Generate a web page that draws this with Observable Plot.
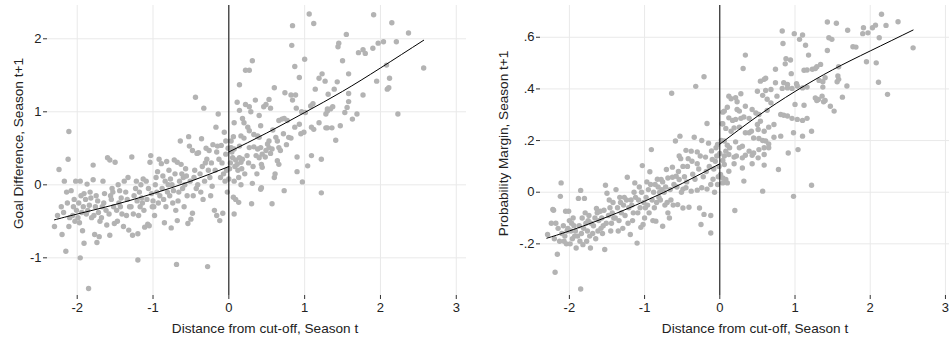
<!DOCTYPE html>
<html><head><meta charset="utf-8">
<script src="https://cdn.jsdelivr.net/npm/d3@7"></script>
<script src="https://cdn.jsdelivr.net/npm/@observablehq/plot@0.6"></script>
<style>
body{margin:0;background:#fff;}
#row{display:flex;width:949px;height:337px;overflow:hidden;}
</style></head><body><div id="row"></div>
<script>
const xTicks = [-2, -1, 0, 1, 2, 3];
const gdYTicks = [-1, 0, 1, 2];
const gdYTickLabels = ["-1", "0", "1", "2"];
const pmYTicks = [-0.2, 0, 0.2, 0.4, 0.6];
const pmYTickLabels = ["-.2", "0", ".2", ".4", ".6"];
const xTitle = "Distance from cut-off, Season t";
const gdTitle = "Goal Difference, Season t+1";
const pmTitle = "Probability Margin, Season t+1";

// ---- Panel 1: Goal Difference ----
const gdBelow = [
[-2.3,-0.57],[-2.26,-0.42],[-2.24,0.21],[-2.21,-0.3],[-2.2,-0.68],
[-2.17,0.05],[-2.15,-0.91],[-2.14,-0.1],[-2.12,0.35],[-2.11,0.73],[-2.11,-0.57],[-2.13,-0.25],[-2.1,-0.45],[-2.18,-0.38],
[-2.08,-0.08],[-2.05,-0.3],[-2.04,-0.2],[-2.02,0.05],[-2.06,-0.42],[-2.01,-0.35],[-2.03,-0.5],
[-1.96,-1.0],[-1.96,0.05],[-1.93,-0.63],[-1.91,-0.8],[-1.98,-0.25],[-1.95,-0.15],[-1.92,-0.3],[-1.94,-0.38],[-1.99,-0.45],[-1.91,-0.12],[-1.97,-0.52],
[-1.87,0.01],[-1.85,-1.42],[-1.82,-0.18],[-1.84,-0.28],[-1.88,-0.4],[-1.86,-0.35],[-1.81,-0.45],[-1.83,-0.1],[-1.89,-0.2],
[-1.79,0.27],[-1.79,0.07],[-1.77,-0.68],[-1.74,-0.79],[-1.71,-0.71],[-1.76,-0.3],[-1.73,-0.22],[-1.78,-0.42],[-1.72,-0.38],[-1.75,-0.15],[-1.7,-0.5],
[-1.66,0.05],[-1.6,0.37],[-1.65,-0.25],[-1.62,-0.35],[-1.68,-0.45],[-1.64,-0.12],[-1.61,-0.55],[-1.67,-0.3],
[-1.57,0.34],[-1.57,-0.69],[-1.51,-0.53],[-1.5,0.31],[-1.55,-0.2],[-1.53,-0.1],[-1.58,-0.4],[-1.52,-0.3],[-1.56,-0.15],[-1.54,-0.05],
[-1.45,-0.25],[-1.48,-0.35],[-1.42,-0.18],[-1.46,0.0],[-1.41,-0.4],[-1.44,-0.08],[-1.47,-0.5],[-1.43,-0.3],
[-1.39,-0.57],[-1.32,-0.62],[-1.36,-0.1],[-1.34,-0.2],[-1.38,0.05],[-1.31,-0.3],[-1.35,-0.42],[-1.33,0.1],
[-1.28,0.38],[-1.27,-0.69],[-1.2,-0.67],[-1.2,-1.03],[-1.25,-0.15],[-1.23,-0.05],[-1.29,-0.3],[-1.22,0.05],[-1.26,-0.4],[-1.21,-0.22],
[-1.18,-0.1],[-1.16,0.0],[-1.14,-0.25],[-1.12,-0.35],[-1.11,-0.58],[-1.15,-0.18],[-1.13,0.08],[-1.19,-0.42],[-1.17,-0.3],
[-1.07,-0.54],[-1.05,-0.56],[-1.04,0.31],[-1.03,0.4],[-1.08,-0.2],[-1.06,-0.05],[-1.02,-0.12],[-1.01,-0.3],[-1.09,0.05],[-1.0,-0.22],
[-0.98,-0.42],[-0.92,0.35],[-0.95,-0.1],[-0.97,0.0],[-0.93,-0.25],[-0.91,-0.15],[-0.96,0.1],[-0.99,-0.3],[-0.94,0.18],
[-0.89,0.29],[-0.85,-0.52],[-0.82,0.32],[-0.88,-0.05],[-0.86,-0.2],[-0.84,0.05],[-0.81,-0.1],[-0.87,0.12],[-0.83,-0.3],[-0.8,0.0],
[-0.76,-0.59],[-0.72,0.34],[-0.78,-0.15],[-0.75,0.0],[-0.73,-0.08],[-0.71,0.15],[-0.77,0.08],[-0.74,-0.25],[-0.79,0.2],[-0.7,-0.35],
[-0.69,-1.09],[-0.68,0.31],[-0.68,-0.49],[-0.64,0.6],[-0.63,0.28],[-0.66,-0.1],[-0.65,0.05],[-0.62,0.15],[-0.67,-0.22],[-0.61,-0.05],[-0.6,0.1],
[-0.54,-0.53],[-0.53,0.66],[-0.52,0.53],[-0.5,-0.47],[-0.58,0.0],[-0.56,0.12],[-0.55,-0.15],[-0.57,0.22],[-0.51,0.05],[-0.59,-0.3],
[-0.48,0.47],[-0.48,-0.39],[-0.44,1.2],[-0.42,0.43],[-0.4,0.44],[-0.46,0.1],[-0.45,0.2],[-0.43,-0.05],[-0.47,-0.15],[-0.41,0.0],
[-0.36,0.63],[-0.33,1.05],[-0.3,0.5],[-0.38,0.15],[-0.35,0.25],[-0.32,0.05],[-0.37,-0.1],[-0.31,0.3],[-0.34,-0.2],
[-0.28,-1.12],[-0.26,0.47],[-0.21,0.55],[-0.27,0.2],[-0.25,0.1],[-0.23,0.3],[-0.22,-0.02],[-0.29,0.35],[-0.24,-0.15],
[-0.19,-0.35],[-0.17,0.79],[-0.16,-0.42],[-0.15,0.53],[-0.14,0.97],[-0.12,-0.49],[-0.18,0.2],[-0.13,0.35],[-0.11,0.1],[-0.16,0.45],
[-0.1,0.54],[-0.08,-0.39],[-0.06,0.72],[-0.09,0.3],[-0.07,0.15],[-0.04,0.42],[-0.03,0.2],[-0.02,-0.1],[-0.05,0.05],[-0.01,0.5],[-0.04,0.6]
];
const gdAbove = [
[0.0,0.08],[0.03,0.51],[0.05,0.37],[0.06,0.66],[0.06,-0.17],[0.07,-0.4],[0.07,0.49],[0.07,0.85],[0.09,0.34],[0.09,-0.2],[0.02,0.3],[0.01,0.22],[0.04,0.45],[0.07,0.05],[0.03,0.6],[0.08,0.25],
[0.11,1.13],[0.11,0.28],[0.13,0.1],[0.13,-0.24],[0.14,1.02],[0.14,1.37],[0.14,0.53],[0.14,0.37],[0.16,0.67],[0.16,0.31],[0.16,0.0],[0.18,0.91],[0.18,0.35],[0.12,0.2],[0.17,0.22],
[0.2,0.85],[0.2,0.64],[0.22,1.57],[0.22,1.1],[0.25,0.79],[0.27,1.57],[0.27,1.07],[0.27,0.74],[0.27,0.51],[0.29,1.0],[0.24,0.4],[0.21,0.15],[0.26,0.3],
[0.31,1.7],[0.31,0.02],[0.3,-0.26],[0.33,0.69],[0.33,0.52],[0.35,1.16],[0.36,0.4],[0.38,0.67],[0.38,0.49],[0.32,0.25],[0.37,0.15],
[0.4,0.95],[0.4,0.65],[0.4,0.37],[0.42,0.81],[0.42,0.51],[0.42,-0.06],[0.43,0.28],[0.43,-0.04],[0.44,0.42],[0.44,0.24],[0.46,1.07],[0.48,0.38],[0.49,1.1],[0.49,0.47],
[0.51,0.56],[0.53,1.17],[0.53,0.6],[0.53,0.51],[0.55,1.05],[0.55,0.43],[0.57,0.49],[0.57,-0.26],[0.6,1.33],[0.6,0.1],[0.58,0.75],
[0.61,0.15],[0.62,0.65],[0.64,0.6],[0.64,0.33],[0.66,0.88],[0.66,0.51],[0.66,0.28],[0.68,0.47],[0.7,0.9],
[0.73,0.91],[0.73,-0.08],[0.74,1.26],[0.77,0.88],[0.79,0.65],[0.76,0.55],[0.72,0.7],
[0.82,1.23],[0.82,0.64],[0.83,1.91],[0.84,2.18],[0.84,1.16],[0.87,1.62],[0.87,0.79],[0.88,1.23],[0.89,1.05],[0.9,0.38],[0.9,0.18],
[0.93,1.47],[0.93,0.83],[0.95,0.7],[0.97,0.04],[0.99,0.72],[1.0,1.72],[0.96,1.0],
[1.01,0.99],[1.04,0.26],[1.06,2.34],[1.08,1.08],[1.09,0.79],[1.09,0.4],
[1.11,1.11],[1.12,2.21],[1.12,0.76],[1.14,1.31],[1.19,1.46],[1.19,0.85],
[1.22,0.35],[1.22,-0.11],[1.23,1.52],[1.27,1.42],[1.28,0.78],[1.28,0.97],[1.3,1.04],[1.3,1.01],[1.3,0.78],
[1.31,1.24],[1.34,1.04],[1.36,0.78],[1.37,1.07],[1.39,1.31],
[1.41,0.61],[1.43,1.41],[1.44,1.89],[1.45,1.94],[1.47,0.81],[1.5,1.7],
[1.53,0.99],[1.55,2.06],[1.56,1.06],[1.58,1.52],[1.58,1.25],[1.58,1.14],
[1.63,0.9],[1.69,0.97],[1.71,1.81],[1.77,1.85],[1.77,1.23],[1.8,1.8],
[1.9,1.87],[1.91,2.33],[1.95,1.42],[1.97,1.94],[2.04,1.96],[2.08,1.64],[2.09,1.31],[2.11,1.33],[2.12,1.46],
[2.15,2.22],[2.21,1.96],[2.23,0.97],[2.37,2.08],[2.57,1.6]
];
const gdFitBelowX = [-2.3, -2, -1.5, -1, -0.5, 0];
const gdFitBelowY = [-0.48, -0.40, -0.27, -0.12, 0.05, 0.25];
const gdFitAboveX = [0, 0.5, 1, 1.5, 2, 2.57];
const gdFitAboveY = [0.45, 0.71, 0.99, 1.28, 1.6, 1.98];

// ---- Panel 2: Probability Margin ----
const pmBelow = [
[-2.29,-0.164],[-2.22,-0.067],[-2.24,-0.12],[-2.21,-0.07],[-2.2,-0.18],
[-2.19,-0.31],[-2.16,-0.24],[-2.12,-0.016],[-2.11,0.036],[-2.15,-0.14],[-2.13,-0.19],[-2.18,-0.12],[-2.1,-0.16],
[-2.05,-0.074],[-2.01,-0.074],[-2.08,-0.13],[-2.06,-0.17],[-2.04,-0.2],[-2.03,-0.15],[-2.0,-0.11],[-2.07,-0.19],[-2.02,-0.14],
[-1.91,-0.216],[-1.98,-0.15],[-1.96,-0.18],[-1.94,-0.13],[-1.93,-0.17],[-1.99,-0.2],[-1.95,-0.1],[-1.92,-0.15],[-1.97,-0.12],
[-1.85,-0.375],[-1.85,0.007],[-1.88,-0.024],[-1.82,-0.203],[-1.8,-0.024],[-1.87,-0.13],[-1.84,-0.16],[-1.83,-0.1],[-1.89,-0.17],[-1.81,-0.14],[-1.86,-0.19],
[-1.72,-0.216],[-1.78,-0.12],[-1.76,-0.15],[-1.74,-0.09],[-1.73,-0.17],[-1.71,-0.12],[-1.77,-0.19],[-1.75,-0.11],[-1.79,-0.08],
[-1.64,-0.063],[-1.68,-0.13],[-1.66,-0.1],[-1.62,-0.15],[-1.65,-0.18],[-1.61,-0.11],[-1.69,-0.16],[-1.63,-0.08],
[-1.59,-0.074],[-1.53,-0.222],[-1.52,0.027],[-1.5,-0.004],[-1.57,-0.1],[-1.55,-0.13],[-1.56,-0.16],[-1.54,-0.07],[-1.51,-0.12],[-1.58,-0.14],
[-1.48,-0.09],[-1.46,-0.06],[-1.44,-0.12],[-1.42,-0.04],[-1.45,-0.15],[-1.41,-0.1],[-1.47,-0.03],[-1.43,-0.08],
[-1.38,0.01],[-1.36,-0.06],[-1.34,-0.11],[-1.32,-0.04],[-1.35,-0.15],[-1.31,-0.08],[-1.39,-0.1],[-1.33,-0.02],
[-1.23,0.058],[-1.28,-0.05],[-1.26,-0.09],[-1.24,-0.03],[-1.22,-0.12],[-1.29,-0.14],[-1.27,-0.02],[-1.21,-0.06],
[-1.19,-0.164],[-1.13,0.036],[-1.1,-0.197],[-1.17,-0.05],[-1.15,-0.08],[-1.12,-0.02],[-1.16,-0.11],[-1.14,0.0],[-1.18,-0.03],
[-1.03,0.103],[-1.02,-0.125],[-1.05,-0.136],[-1.08,-0.03],[-1.06,-0.06],[-1.04,0.0],[-1.01,-0.04],[-1.09,-0.08],[-1.07,0.02],[-1.0,-0.1],
[-0.93,0.079],[-0.91,0.165],[-0.98,-0.02],[-0.96,-0.05],[-0.95,0.01],[-0.94,-0.08],[-0.92,0.03],[-0.97,0.04],[-0.99,-0.06],[-0.9,-0.03],
[-0.89,-0.11],[-0.85,-0.112],[-0.88,0.0],[-0.86,0.03],[-0.84,-0.04],[-0.82,0.02],[-0.87,-0.06],[-0.83,0.05],[-0.81,-0.02],[-0.8,0.0],
[-0.78,0.049],[-0.76,0.04],[-0.76,-0.132],[-0.71,0.088],[-0.79,-0.03],[-0.74,0.0],[-0.73,-0.05],[-0.72,0.02],[-0.77,0.01],[-0.7,-0.04],
[-0.69,0.055],[-0.69,-0.08],[-0.67,-0.1],[-0.64,0.383],[-0.63,0.097],[-0.63,0.058],[-0.66,0.01],[-0.65,-0.03],[-0.61,0.03],[-0.62,-0.05],
[-0.59,0.198],[-0.58,0.062],[-0.56,-0.048],[-0.54,0.14],[-0.54,0.049],[-0.53,0.217],[-0.52,0.13],[-0.57,0.02],[-0.55,0.08],[-0.51,0.0],
[-0.49,0.1],[-0.49,0.012],[-0.49,-0.061],[-0.45,0.162],[-0.45,0.017],[-0.43,0.1],[-0.41,-0.058],[-0.47,0.06],[-0.44,0.04],[-0.42,0.13],
[-0.38,0.159],[-0.38,0.004],[-0.34,0.213],[-0.32,0.41],[-0.3,0.156],[-0.3,0.11],[-0.3,0.008],[-0.36,0.07],[-0.33,0.05],[-0.37,0.12],
[-0.27,-0.061],[-0.25,-0.125],[-0.24,0.2],[-0.24,0.017],[-0.21,0.447],[-0.21,-0.086],[-0.28,0.09],[-0.26,0.14],[-0.22,0.06],
[-0.19,0.136],[-0.17,0.266],[-0.17,0.012],[-0.15,0.19],[-0.12,0.03],[-0.12,-0.09],[-0.12,-0.158],[-0.1,0.127],[-0.18,0.08],[-0.14,0.1],[-0.11,0.16],
[-0.05,0.172],[-0.03,0.185],[-0.03,0.03],[-0.08,0.09],[-0.06,0.12],[-0.02,0.06],[-0.07,0.0],[-0.04,0.14],[-0.01,0.1],[-0.09,0.05]
];
const pmAbove = [
[0.01,0.069],[0.03,0.265],[0.04,0.31],[0.04,0.265],[0.04,0.123],[0.04,0.055],[0.04,0.036],[0.06,0.314],[0.06,0.198],[0.06,0.14],[0.06,0.107],[0.08,0.247],[0.08,0.159],[0.08,0.049],[0.02,0.2],[0.0,0.15],
[0.1,0.329],[0.1,0.182],[0.1,0.036],[0.12,0.372],[0.12,0.288],[0.12,0.146],[0.12,0.081],[0.13,0.172],[0.15,0.362],[0.15,0.236],[0.17,0.278],[0.19,0.249],[0.19,0.136],[0.19,0.11],
[0.2,-0.071],[0.21,0.366],[0.21,0.282],[0.21,0.195],[0.22,0.14],[0.23,0.35],[0.23,0.32],[0.26,0.314],[0.26,0.252],[0.26,0.172],[0.28,0.381],[0.28,0.286],
[0.3,0.178],[0.3,0.133],[0.3,0.094],[0.31,0.479],[0.32,0.291],[0.32,0.043],[0.34,0.531],[0.34,0.333],[0.34,0.23],[0.34,0.143],[0.39,0.286],[0.39,0.23],[0.39,0.159],
[0.42,0.236],[0.43,0.32],[0.43,0.143],[0.43,0.11],[0.45,0.21],[0.45,0.152],[0.48,0.307],[0.5,0.391],[0.5,0.262],
[0.51,0.243],[0.51,0.133],[0.52,0.301],[0.52,0.208],[0.52,0.165],[0.54,0.43],[0.54,0.275],[0.57,0.375],[0.57,0.2],[0.57,0.004],[0.59,0.437],[0.59,0.236],[0.59,0.172],[0.59,0.146],[0.59,0.105],
[0.61,0.441],[0.61,0.394],[0.61,0.198],[0.63,0.36],[0.63,0.317],[0.65,0.252],[0.65,0.187],[0.65,0.172],[0.68,0.398],[0.68,0.346],
[0.72,0.262],[0.72,0.213],[0.74,0.476],[0.74,0.424],[0.76,0.372],[0.78,0.088],
[0.81,0.301],[0.81,0.217],[0.83,0.624],[0.83,0.402],[0.84,0.576],[0.85,0.424],[0.85,0.298],[0.87,0.497],[0.88,0.517],[0.9,0.417],[0.9,0.404],[0.9,0.295],
[0.91,0.152],[0.94,0.512],[0.95,0.459],[0.96,0.402],[0.96,0.286],[0.98,0.23],[0.98,-0.016],[0.99,0.614],
[1.0,0.34],[1.02,0.42],[1.03,0.411],[1.03,0.282],[1.04,0.165],[1.06,0.592],[1.1,0.609],[1.1,0.404],[1.1,0.278],[1.1,0.217],
[1.12,0.472],[1.12,0.337],[1.14,0.569],[1.16,0.473],[1.16,0.407],[1.16,0.286],[1.18,0.531],
[1.22,0.236],[1.22,0.027],[1.23,0.476],[1.27,0.479],[1.27,0.365],[1.29,0.486],[1.29,0.355],
[1.31,0.359],[1.32,0.433],[1.34,0.495],[1.36,0.372],[1.37,0.428],[1.37,0.407],[1.38,0.35],
[1.4,0.443],[1.4,0.355],[1.43,0.659],[1.43,0.549],[1.45,0.598],[1.47,0.333],[1.49,0.592],
[1.52,0.314],[1.55,0.654],[1.56,0.428],[1.57,0.45],[1.58,0.486],[1.58,0.437],
[1.63,0.368],[1.69,0.411],[1.7,0.627],[1.77,0.563],[1.81,0.562],
[1.9,0.614],[1.91,0.637],[1.95,0.505],[1.97,0.617],[2.03,0.637],[2.07,0.647],[2.08,0.501],
[2.11,0.426],[2.12,0.598],[2.15,0.689],[2.21,0.646],[2.23,0.379],[2.37,0.66],[2.57,0.559]
];
const pmFitBelowX = [-2.3, -2, -1.5, -1, -0.5, 0];
const pmFitBelowY = [-0.178, -0.15, -0.096, -0.035, 0.034, 0.11];
const pmFitAboveX = [0, 0.5, 1, 1.5, 2, 2.57];
const pmFitAboveY = [0.186, 0.294, 0.39, 0.474, 0.547, 0.628];

const FONT = "'Liberation Sans', Arial, Helvetica, sans-serif";

function panel(o) {
  const pts = [...o.below, ...o.above].map(([x, y]) => ({x, y}));
  const fitB = o.fbx.map((x, i) => ({x, y: o.fby[i]}));
  const fitA = o.fax.map((x, i) => ({x, y: o.fay[i]}));
  const lab = new Map(o.yTicks.map((t, i) => [t, o.yLabels[i]]));
  return Plot.plot({
    width: o.width, height: 337,
    marginTop: 5, marginBottom: 42, marginLeft: o.marginLeft, marginRight: o.marginRight,
    style: {fontFamily: FONT, fontSize: "13px", color: "#222", background: "white", overflow: "visible"},
    x: {domain: o.xDomain},
    y: {domain: o.yDomain},
    marks: [
      Plot.gridX(xTicks, {stroke: "#e9e9e9", strokeOpacity: 1, strokeWidth: 1}),
      Plot.gridY(o.yTicks, {stroke: "#e9e9e9", strokeOpacity: 1, strokeWidth: 1}),
      Plot.dot(pts, {x: "x", y: "y", r: 2.7, fill: "#b3b3b3", stroke: "none"}),
      Plot.ruleX([0], {stroke: "black", strokeWidth: 1}),
      Plot.line(fitB, {x: "x", y: "y", curve: "natural", stroke: "black", strokeWidth: 1}),
      Plot.line(fitA, {x: "x", y: "y", curve: "natural", stroke: "black", strokeWidth: 1}),
      Plot.axisX(xTicks, {tickSize: 4, tickPadding: 3, label: null, tickFormat: d => String(d), stroke: "#333", fontSize: 13}),
      Plot.axisY(o.yTicks, {tickSize: 4, tickPadding: 2, label: null, tickFormat: d => lab.get(d), stroke: "#333", fontSize: 13}),
      Plot.text([xTitle], {text: d => d, frameAnchor: "bottom", lineAnchor: "middle", textAnchor: "middle", dy: 33, dx: o.xTitleDx, fontSize: 13.6}),
      Plot.text([o.yTitle], {text: d => d, frameAnchor: "left", lineAnchor: "middle", textAnchor: "middle", rotate: -90, dx: o.yTitleDx, dy: -7, fontSize: 13.6})
    ]
  });
}

const row = document.getElementById("row");
row.append(panel({
  width: 474, marginLeft: 47, marginRight: 8,
  xDomain: [-2.392, 3.135], yDomain: [-1.516, 2.456],
  yTicks: gdYTicks, yLabels: gdYTickLabels,
  below: gdBelow, above: gdAbove,
  fbx: gdFitBelowX, fby: gdFitBelowY, fax: gdFitAboveX, fay: gdFitAboveY,
  yTitle: gdTitle, xTitleDx: 8, yTitleDx: -29
}));
row.append(panel({
  width: 475, marginLeft: 66, marginRight: 0,
  xDomain: [-2.384, 3.054], yDomain: [-0.4, 0.723],
  yTicks: pmYTicks, yLabels: pmYTickLabels,
  below: pmBelow, above: pmAbove,
  fbx: pmFitBelowX, fby: pmFitBelowY, fax: pmFitAboveX, fay: pmFitAboveY,
  yTitle: pmTitle, xTitleDx: 10, yTitleDx: -37
}));
</script></body></html>
